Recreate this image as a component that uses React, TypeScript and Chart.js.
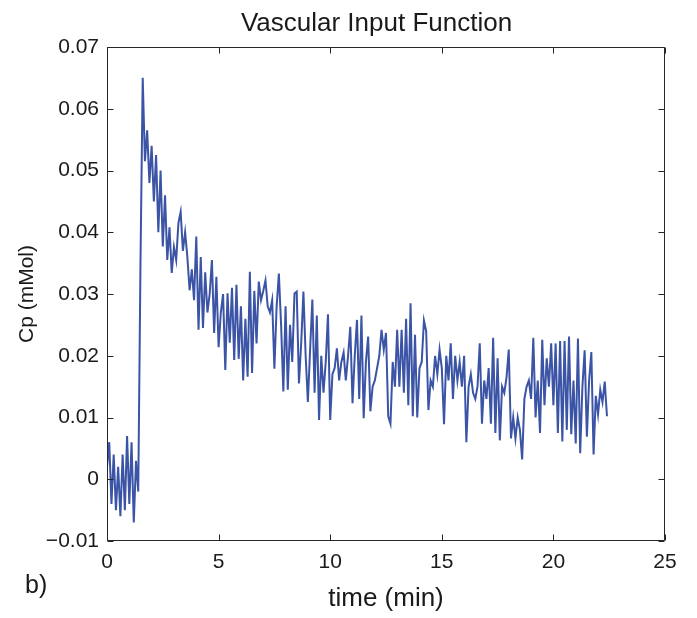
import { useEffect, useRef } from "react";
import { Chart, registerables } from "chart.js";

Chart.register(...registerables);

// sampling interval of the series (minutes)
const SAMPLE_MIN = 0.1;

// Cp (mMol), one value every SAMPLE_MIN minutes from t = 0
const cpValues: number[] = [
  0.002, 0.006, -0.004, 0.004, -0.005, 0.002, -0.006, 0.004, -0.005, 0.007,
  -0.004, 0.006, -0.007, 0.003, -0.002, 0.035, 0.065, 0.0515, 0.0565, 0.048,
  0.054, 0.045, 0.0525, 0.04, 0.05, 0.0377, 0.046, 0.0355, 0.0408, 0.0334,
  0.0376, 0.0355, 0.0415, 0.0433, 0.037, 0.04, 0.036, 0.0306, 0.034, 0.029,
  0.0393, 0.0242, 0.036, 0.0245, 0.0335, 0.027, 0.03, 0.0355, 0.0237, 0.0328,
  0.0214, 0.027, 0.03, 0.0177, 0.0301, 0.0221, 0.031, 0.0193, 0.0315, 0.0195,
  0.028, 0.016, 0.026, 0.0166, 0.0336, 0.0172, 0.0305, 0.022, 0.032, 0.029,
  0.0305, 0.0322, 0.028, 0.027, 0.029, 0.0179, 0.028, 0.0333, 0.025, 0.0142,
  0.028, 0.0145, 0.025, 0.019, 0.0301, 0.0304, 0.0155, 0.022, 0.0304, 0.02,
  0.0125, 0.021, 0.0291, 0.014, 0.0265, 0.0096, 0.02, 0.014, 0.019, 0.0267,
  0.0096, 0.017, 0.018, 0.0212, 0.016, 0.019, 0.0205, 0.016, 0.02, 0.0247,
  0.0123, 0.02, 0.0258, 0.013, 0.0265, 0.0099, 0.019, 0.0231, 0.011, 0.015,
  0.016, 0.018, 0.02, 0.0242, 0.021, 0.0237, 0.0102, 0.009, 0.019, 0.015,
  0.0242, 0.015, 0.0242, 0.014, 0.026, 0.012, 0.0285, 0.0102, 0.0234, 0.01,
  0.018, 0.019, 0.0257, 0.024, 0.0112, 0.016, 0.015, 0.02, 0.017, 0.021,
  0.018, 0.0089, 0.02, 0.016, 0.022, 0.013, 0.02, 0.016, 0.019, 0.015,
  0.02, 0.006, 0.015, 0.017, 0.014, 0.013, 0.015, 0.022, 0.009, 0.016,
  0.013, 0.018, 0.009, 0.0229, 0.0075, 0.0196, 0.0063, 0.015, 0.014, 0.0165,
  0.021, 0.0066, 0.01, 0.0066, 0.01, 0.008, 0.0032, 0.013, 0.015, 0.016,
  0.013, 0.0229, 0.01, 0.016, 0.0075, 0.0226, 0.012, 0.0196, 0.015, 0.022,
  0.012, 0.022, 0.0075, 0.0224, 0.0061, 0.0224, 0.008, 0.0231, 0.0073, 0.016,
  0.0058, 0.0228, 0.0042, 0.015, 0.0209, 0.0069, 0.016, 0.0206, 0.004, 0.0135,
  0.0105, 0.0145, 0.0125, 0.0158, 0.0102,
];

const xTicks = [0, 5, 10, 15, 20, 25];
const yTicks = [-0.01, 0, 0.01, 0.02, 0.03, 0.04, 0.05, 0.06, 0.07];

const TITLE = "Vascular Input Function";
const X_LABEL = "time (min)";
const Y_LABEL = "Cp (mMol)";
const PANEL_LABEL = "b)";

const FONT = "'Liberation Sans', Arial, Helvetica, sans-serif";
const TEXT_COLOR = "#1a1a1a";
const AXIS_COLOR = "#262626";
const LINE_COLOR = "#3b54a6";

const fmtY = (v: number) =>
  v === 0 ? "0" : (v < 0 ? "\u2212" : "") + Math.abs(v).toFixed(2);

const framePlugin = {
  id: "matlabFrame",
  afterDraw(chart: any) {
    const { ctx, chartArea, scales } = chart;
    const left = Math.round(chartArea.left) + 0.5;
    const right = Math.round(chartArea.right) - 0.5;
    const top = Math.round(chartArea.top) + 0.5;
    const bottom = Math.round(chartArea.bottom) - 0.5;
    const tl = 6;
    ctx.save();
    ctx.strokeStyle = AXIS_COLOR;
    ctx.lineWidth = 1;
    ctx.beginPath();
    ctx.rect(left, top, right - left, bottom - top);
    xTicks.forEach((v) => {
      const px = Math.round(scales.x.getPixelForValue(v)) + 0.5;
      ctx.moveTo(px, bottom);
      ctx.lineTo(px, bottom - tl);
      ctx.moveTo(px, top);
      ctx.lineTo(px, top + tl);
    });
    yTicks.forEach((v) => {
      const py = Math.round(scales.y.getPixelForValue(v)) + 0.5;
      ctx.moveTo(left, py);
      ctx.lineTo(left + tl, py);
      ctx.moveTo(right, py);
      ctx.lineTo(right - tl, py);
    });
    ctx.stroke();

    ctx.fillStyle = TEXT_COLOR;
    ctx.font = `26px ${FONT}`;
    ctx.textAlign = "center";
    ctx.textBaseline = "alphabetic";
    ctx.fillText(TITLE, 376.5, 31);

    ctx.font = `25px ${FONT}`;
    ctx.textAlign = "left";
    ctx.fillText(PANEL_LABEL, 25, 593);
    ctx.restore();
  },
};

export default function App() {
  const canvasRef = useRef<HTMLCanvasElement | null>(null);

  useEffect(() => {
    if (!canvasRef.current) return;
    const data = cpValues.map((v, i) => ({
      x: Math.round(i * SAMPLE_MIN * 10) / 10,
      y: v,
    }));
    const chart = new Chart(canvasRef.current, {
      type: "line",
      data: {
        datasets: [
          {
            data,
            borderColor: LINE_COLOR,
            borderWidth: 2,
            pointRadius: 0,
            tension: 0,
            fill: false,
          },
        ],
      },
      options: {
        animation: false,
        responsive: false,
        events: [],
        layout: { padding: { top: 47, right: 32, left: 0, bottom: 0 } },
        plugins: {
          legend: { display: false },
          tooltip: { enabled: false },
          title: { display: false },
        },
        scales: {
          x: {
            type: "linear",
            min: 0,
            max: 25,
            grid: { display: false, drawTicks: false },
            border: { display: false },
            afterBuildTicks: (scale: any) => {
              scale.ticks = xTicks.map((v) => ({ value: v }));
            },
            afterFit: (scale: any) => {
              scale.height = 77;
            },
            ticks: {
              color: TEXT_COLOR,
              font: { family: FONT, size: 21 },
              padding: 9,
              maxRotation: 0,
              callback: (v: any) => String(v),
            },
            title: {
              display: true,
              text: X_LABEL,
              color: TEXT_COLOR,
              font: { family: FONT, size: 26 },
              padding: { top: 0, bottom: 4 },
            },
          },
          y: {
            type: "linear",
            min: -0.01,
            max: 0.07,
            grid: { display: false, drawTicks: false },
            border: { display: false },
            afterBuildTicks: (scale: any) => {
              scale.ticks = yTicks.map((v) => ({ value: v }));
            },
            afterFit: (scale: any) => {
              scale.width = 107;
            },
            ticks: {
              color: TEXT_COLOR,
              font: { family: FONT, size: 21 },
              padding: 8,
              callback: (v: any) => fmtY(Number(v)),
            },
            title: {
              display: true,
              text: Y_LABEL,
              color: TEXT_COLOR,
              font: { family: FONT, size: 21 },
              padding: { top: 15, bottom: 0 },
            },
          },
        },
      },
      plugins: [framePlugin],
    } as any);
    return () => chart.destroy();
  }, []);

  return (
    <div
      style={{
        position: "fixed",
        left: 0,
        top: 0,
        width: 697,
        height: 618,
        background: "#ffffff",
      }}
    >
      <canvas ref={canvasRef} width={697} height={618} />
    </div>
  );
}
